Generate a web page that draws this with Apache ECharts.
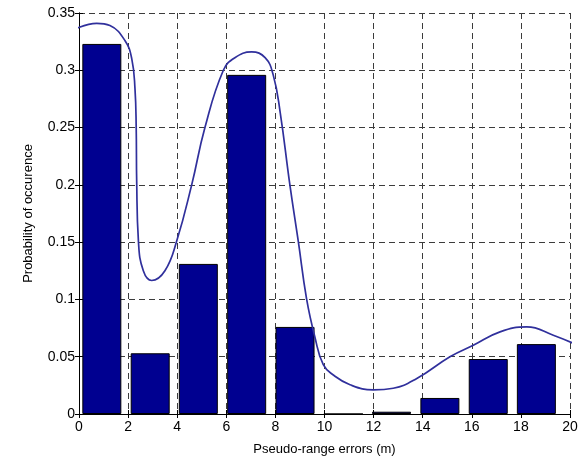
<!DOCTYPE html>
<html lang="en">
<head>
    <meta charset="UTF-8">
    <title>Pseudo-range errors</title>
    <style>
        html,body{
            height: 100%;
        }
        body{
            margin: 0;
            padding: 0;
            background: #fff;
        }
        #chart{
            width: 588px;
            height: 461px;
        }
    </style>
</head>
<body>
    <div id="chart"></div>
<script src="https://cdn.jsdelivr.net/npm/echarts@6/dist/echarts.min.js"></script>
<script>
    // histogram bins (centre in m, probability)
    var binCenters = [0.93, 2.90, 4.86, 6.83, 8.80, 10.77, 12.73, 14.70, 16.67, 18.63];
    var binProb = [0.323, 0.053, 0.131, 0.296, 0.076, 0, 0.002, 0.014, 0.048, 0.061];

    // fitted density curve
    var curveX = [-0.33, 0.72, 1.26, 1.87, 2.15, 2.28, 2.33, 2.35, 2.42, 2.62, 2.96, 3.50, 3.98, 4.59,
        5.13, 5.88, 6.35, 7.03, 7.58, 7.91, 8.19, 8.59, 8.93, 9.27, 9.61, 9.95, 10.36, 11.04, 11.99,
        12.8, 13.76, 15.11, 16.06, 17.15, 18.24, 19.32, 20.3];
    var curveY = [0.334, 0.341, 0.339, 0.326, 0.310, 0.284, 0.250, 0.203, 0.151, 0.125, 0.1165, 0.125, 0.151, 0.200,
        0.250, 0.300, 0.311, 0.316, 0.311, 0.296, 0.264, 0.200, 0.151, 0.1005, 0.067, 0.043, 0.034, 0.0255, 0.0211,
        0.0225, 0.031, 0.050, 0.060, 0.0717, 0.076, 0.0688, 0.060];

    var xTicks = { min: 0, max: 20, interval: 2 };
    var yTicks = { min: 0, max: 0.35, interval: 0.05 };

    var font = 'Liberation Sans, Arial, sans-serif';
    var grid = {
        type: [6, 4],
        color: '#3c3c3c',
        width: 1
    };

    var myChart = echarts.init(document.getElementById('chart'));

    var bars = binCenters.map(function (c, i) { return [c, binProb[i]]; });
    var curve = curveX.map(function (x, i) { return [x, curveY[i]]; });

    myChart.setOption({
        animation: false,
        grid: { left: 79, right: 18, top: 13, bottom: 43, containLabel: false },
        xAxis: [{
            type: 'value',
            min: xTicks.min, max: xTicks.max, interval: xTicks.interval,
            name: 'Pseudo-range errors (m)',
            nameLocation: 'middle',
            nameGap: 29,
            nameTextStyle: { fontFamily: font, fontSize: 13, color: '#000' },
            axisLine: { lineStyle: { color: '#000', width: 1 } },
            axisTick: { inside: true, length: 4, lineStyle: { color: '#000' } },
            axisLabel: { fontFamily: font, fontSize: 14, color: '#000', margin: 6 },
            splitLine: { show: true, lineStyle: grid }
        }, {
            type: 'value', position: 'top',
            min: xTicks.min, max: xTicks.max, interval: xTicks.interval,
            axisLine: { show: true, lineStyle: { color: '#000', width: 1 } },
            axisTick: { inside: true, length: 4, lineStyle: { color: '#000' } },
            axisLabel: { show: false },
            splitLine: { show: false }
        }],
        yAxis: [{
            type: 'value',
            min: yTicks.min, max: yTicks.max, interval: yTicks.interval,
            name: 'Probability of occurence',
            nameLocation: 'middle',
            nameGap: 44,
            nameTextStyle: { fontFamily: font, fontSize: 13, color: '#000' },
            axisLine: { show: true, lineStyle: { color: '#000', width: 1 } },
            axisTick: { show: true, inside: true, length: 4, lineStyle: { color: '#000' } },
            axisLabel: { fontFamily: font, fontSize: 14, color: '#000', margin: 4 },
            splitLine: { show: true, lineStyle: grid }
        }, {
            type: 'value', position: 'right',
            min: yTicks.min, max: yTicks.max, interval: yTicks.interval,
            axisLine: { show: true, lineStyle: { color: '#000', width: 1 } },
            axisTick: { show: true, inside: true, length: 4, lineStyle: { color: '#000' } },
            axisLabel: { show: false },
            splitLine: { show: false }
        }],
        series: [{
            type: 'bar',
            data: bars,
            barWidth: 39,
            itemStyle: { color: '#000090', borderColor: '#000', borderWidth: 1 }
        }, {
            type: 'line',
            data: curve,
            smooth: 0.45,
            clip: false,
            showSymbol: false,
            symbol: 'none',
            lineStyle: { color: '#30309c', width: 1.7 },
            z: 5
        }]
    });
</script>
</body>
</html>
